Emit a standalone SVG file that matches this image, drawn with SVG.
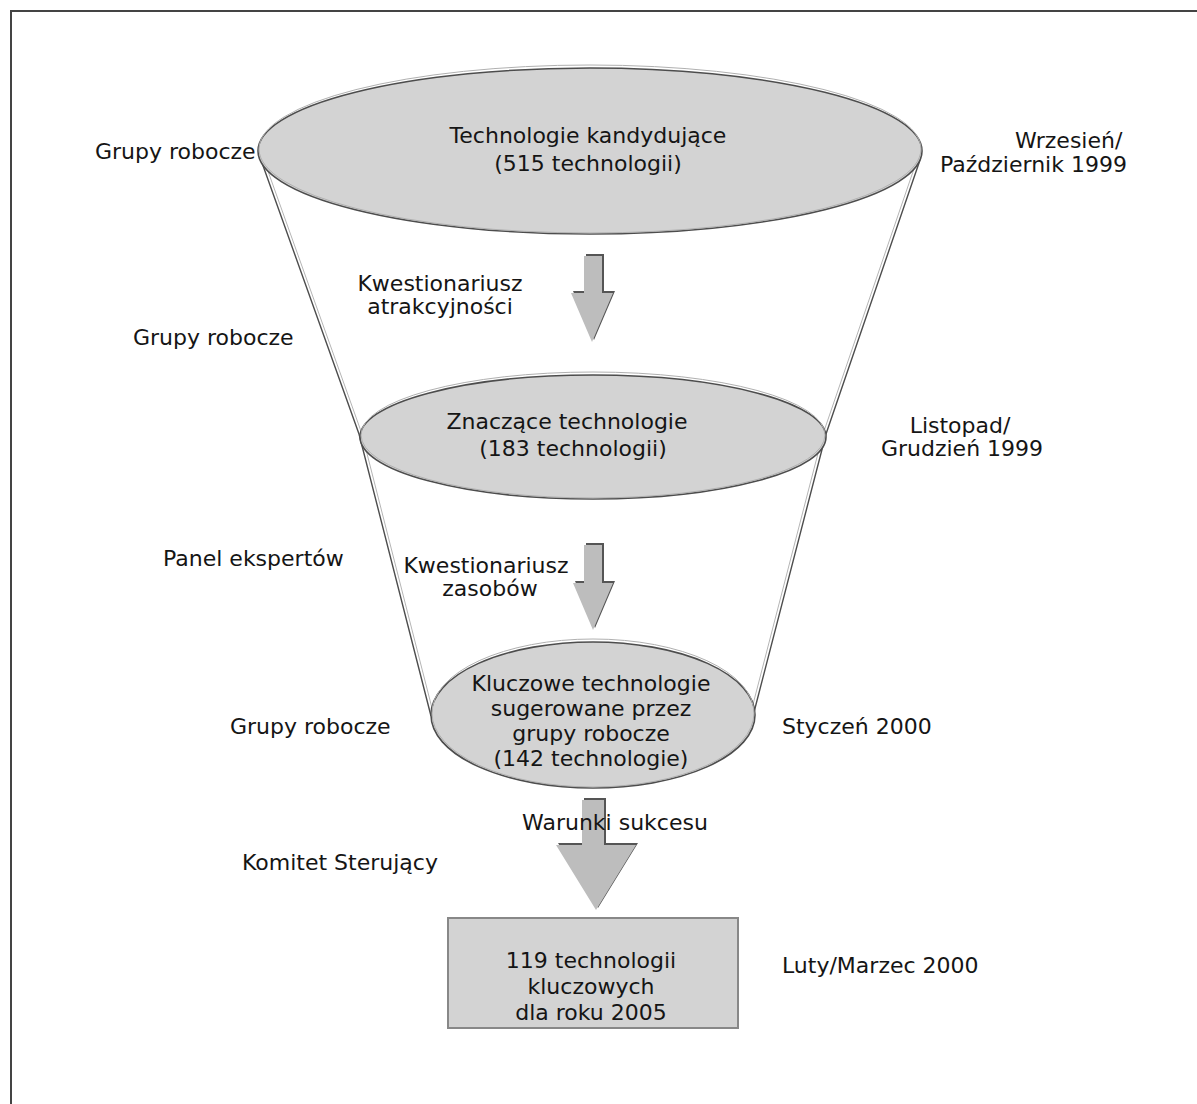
<svg xmlns="http://www.w3.org/2000/svg" width="1197" height="1104" viewBox="0 0 1197 1104">
  <style>
    .lbl { font-family: "DejaVu Sans", "Liberation Sans", sans-serif; font-size: 22px; fill: #151515; }
    .mid { text-anchor: middle; }
    .stage { fill: #d3d3d3; stroke: #4d4d4d; stroke-width: 1.6; }
    .rim { fill: none; stroke: #b0b0b0; stroke-width: 1; }
    .wall { stroke: #4d4d4d; stroke-width: 1.4; fill: none; }
    .wall2 { stroke: #b5b5b5; stroke-width: 1; fill: none; }
    .arrow { fill: #bdbdbd; }
    .shade { fill: #555; }
  </style>

  <rect x="11" y="11" width="1300" height="1200" fill="#fff" stroke="#444" stroke-width="2"/>

  <!-- funnel walls and flow arrows -->
  <g id="connectors">
    <path class="wall2" d="M264 160 L362 434 L434 716"/>
    <path class="wall" d="M261 160 L359 434 L431 716"/>
    <path class="wall2" d="M917 160 L823 434 L750 716"/>
    <path class="wall" d="M920 160 L826 434 L753 716"/>

    <g id="arrow-1">
      <polygon class="shade" points="586,254 604,254 604,291 615,291 594,340 573,291 586,291"/>
      <polygon class="arrow" points="584,256 602,256 602,293 613,293 592,342 571,293 584,293"/>
    </g>
    <g id="arrow-2">
      <polygon class="shade" points="586,543 604,543 604,581 615,581 595,628 575,581 586,581"/>
      <polygon class="arrow" points="584,545 602,545 602,583 613,583 593,630 573,583 584,583"/>
    </g>
    <g id="arrow-3">
      <polygon class="shade" points="584,798 606,798 606,843 638,843 598,908 558,843 584,843"/>
      <polygon class="arrow" points="582,800 604,800 604,845 636,845 596,910 556,845 582,845"/>
    </g>
  </g>

  <g id="stage-1">
    <ellipse class="stage" cx="590" cy="151" rx="332" ry="83"/>
    <ellipse class="rim" cx="590" cy="149" rx="331" ry="84"/>
    <text class="lbl mid" x="588" y="143">Technologie kandydujące</text>
    <text class="lbl mid" x="588" y="171">(515 technologii)</text>
  </g>

  <g id="stage-2">
    <ellipse class="stage" cx="593" cy="437" rx="233" ry="62"/>
    <ellipse class="rim" cx="593" cy="435" rx="232" ry="63"/>
    <text class="lbl mid" x="567" y="429">Znaczące technologie</text>
    <text class="lbl mid" x="573" y="456">(183 technologii)</text>
  </g>

  <g id="stage-3">
    <ellipse class="stage" cx="593" cy="715" rx="162" ry="73"/>
    <ellipse class="rim" cx="593" cy="713" rx="161" ry="74"/>
    <text class="lbl mid" x="591" y="691">Kluczowe technologie</text>
    <text class="lbl mid" x="591" y="716">sugerowane przez</text>
    <text class="lbl mid" x="591" y="741">grupy robocze</text>
    <text class="lbl mid" x="591" y="766">(142 technologie)</text>
  </g>

  <g id="result">
    <rect x="448" y="918" width="290" height="110" fill="#d3d3d3" stroke="#888" stroke-width="2"/>
    <text class="lbl mid" x="591" y="968">119 technologii</text>
    <text class="lbl mid" x="591" y="994">kluczowych</text>
    <text class="lbl mid" x="591" y="1020">dla roku 2005</text>
  </g>

  <!-- side annotations -->
  <g id="labels">
    <text class="lbl" x="95" y="159">Grupy robocze</text>
    <text class="lbl" x="1015" y="148">Wrzesień/</text>
    <text class="lbl" x="940" y="172">Październik 1999</text>

    <text class="lbl mid" x="440" y="291">Kwestionariusz</text>
    <text class="lbl mid" x="440" y="314">atrakcyjności</text>
    <text class="lbl" x="133" y="345">Grupy robocze</text>

    <text class="lbl mid" x="960" y="433">Listopad/</text>
    <text class="lbl mid" x="962" y="456">Grudzień 1999</text>

    <text class="lbl" x="163" y="566">Panel ekspertów</text>
    <text class="lbl mid" x="486" y="573">Kwestionariusz</text>
    <text class="lbl mid" x="490" y="596">zasobów</text>

    <text class="lbl" x="230" y="734">Grupy robocze</text>
    <text class="lbl" x="782" y="734">Styczeń 2000</text>

    <text class="lbl mid" x="615" y="830">Warunki sukcesu</text>
    <text class="lbl" x="242" y="870">Komitet Sterujący</text>

    <text class="lbl" x="782" y="973">Luty/Marzec 2000</text>
  </g>
</svg>
